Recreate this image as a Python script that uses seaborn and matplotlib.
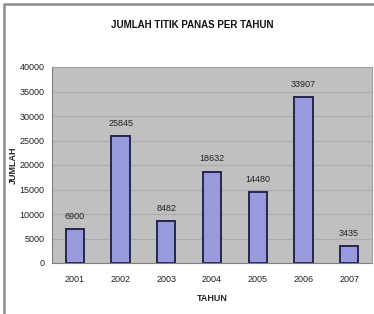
import matplotlib
matplotlib.use('Agg')
import matplotlib.pyplot as plt
import seaborn as sns
import pandas as pd
from matplotlib.patches import Rectangle

# data
tahun = ['2001', '2002', '2003', '2004', '2005', '2006', '2007']
jumlah = [6900, 25845, 8482, 18632, 14480, 33907, 3435]

df = pd.DataFrame({'Tahun': tahun, 'Jumlah': jumlah})

sns.set_style('white')
plt.rcParams['font.family'] = ['Liberation Sans Narrow', 'Liberation Sans', 'DejaVu Sans']

fig = plt.figure(figsize=(3.74, 3.14), dpi=100)
ax = fig.add_axes([52/374, 51/314, 320/374, 196/314])

sns.barplot(x='Tahun', y='Jumlah', data=df, color='#9999DD', width=0.4,
            edgecolor='#26264d', linewidth=1.4, saturation=1, ax=ax)

ax.set_facecolor('#C0C0C0')
ax.set_ylim(0, 40000)
ax.set_yticks(range(0, 40001, 5000))
ax.grid(axis='y', color='#ABABAB', linewidth=0.8)
ax.set_axisbelow(True)
for s in ax.spines.values():
    s.set_color('#A0A0A0')
    s.set_linewidth(0.8)
ax.spines['left'].set_color('#808080')
ax.spines['bottom'].set_color('#808080')

ax.bar_label(ax.containers[0], labels=[str(v) for v in jumlah], padding=6, fontsize=6.5, color='#222222')

ax.tick_params(axis='both', labelsize=6.5, colors='#222222', length=2, width=0.6)
ax.tick_params(axis='x', length=0, pad=9)
ax.set_xlabel('TAHUN', fontsize=6.5, fontweight='bold')
ax.xaxis.set_label_coords(0.5, -31/196)
ax.set_ylabel('JUMLAH', fontsize=6.5, fontweight='bold')
ax.yaxis.set_label_coords(-34/320, 0.5)

fig.text(192/374, 1 - 25/314, 'JUMLAH TITIK PANAS PER TAHUN', ha='center', va='center',
         fontsize=7, fontweight='bold', color='#111111')

# outer chart border
fig.patches.append(Rectangle((4/374, -0.05), 1.1, 1 - 4/314 + 0.05, transform=fig.transFigure,
                             fill=False, edgecolor='#8c8c8c', linewidth=1.8))

fig.savefig('out.png', dpi=100)
